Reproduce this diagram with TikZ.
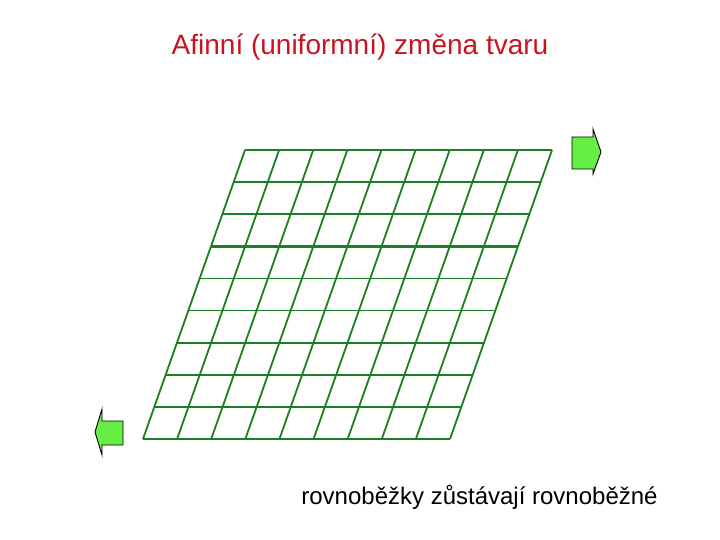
\documentclass[tikz,border=0pt]{standalone}
\usepackage{fontspec}
\setmainfont{Liberation Sans}
\usetikzlibrary{calc}
\definecolor{gridgreen}{HTML}{1E7F1E}
\definecolor{titlered}{HTML}{C8141E}
\definecolor{arrowgreen}{HTML}{66EE44}
\tikzset{
  gridline/.style={gridgreen, line width=1.8pt},
  fatarrow/.style={fill=arrowgreen, draw=black, line width=0.9pt, line join=miter}
}
\begin{document}
\begin{tikzpicture}[x=1pt,y=-1pt]
\useasboundingbox (0,0) rectangle (720,540);
% grid corners
\coordinate (TL) at (245,150);
\coordinate (TR) at (552,150);
\coordinate (BL) at (143,439);
\coordinate (BR) at (450,439);
% horizontal lines
\foreach \i in {0,...,9}{
  \draw[gridline] ($(TL)!\i/9!(BL)$) -- ($(TR)!\i/9!(BR)$);
}
% slanted lines
\foreach \j in {0,...,9}{
  \draw[gridline] ($(TL)!\j/9!(TR)$) -- ($(BL)!\j/9!(BR)$);
}
\draw[gridline, line width=2.4pt] ($(TL)!3/9!(BL)$) -- ($(TR)!3/9!(BR)$);
% arrows
\draw[fatarrow] (572,137) -- (593,137) -- (593,129) -- (601,152) -- (593,174) -- (593,169) -- (572,169) -- cycle;
\draw[fatarrow] (123,421) -- (102,421) -- (102,409) -- (95,432) -- (102,455) -- (102,445) -- (123,445) -- cycle;
% texts
\node[titlered, font=\fontsize{28}{32}\selectfont, inner sep=0pt] (title) at (360,47) {Afinní (uniformní) změna tvaru};
\node[black, font=\fontsize{24}{28}\selectfont, inner sep=0pt] (caption) at (479.5,497) {rovnoběžky zůstávají rovnoběžné};
\end{tikzpicture}
\end{document}
